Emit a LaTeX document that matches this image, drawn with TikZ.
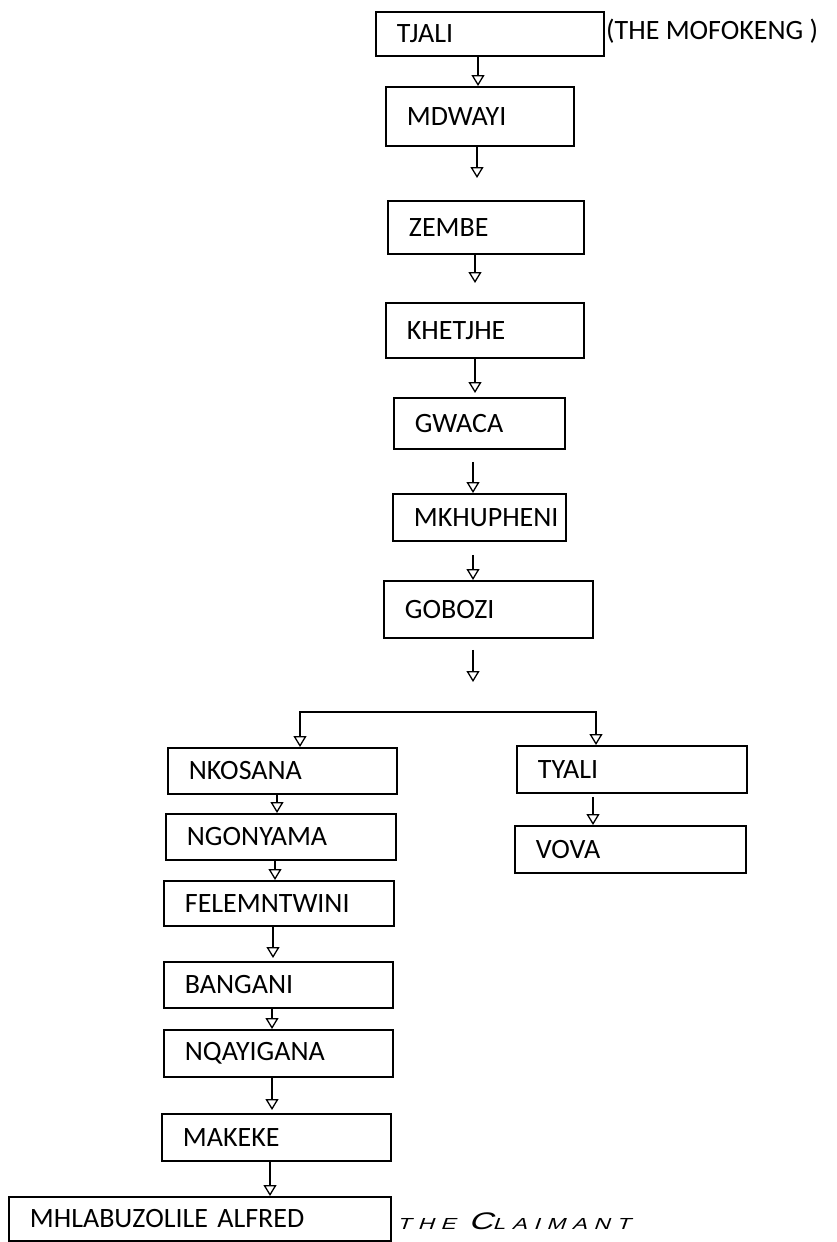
\documentclass[tikz,border=0pt]{standalone}
\usepackage{fontspec}
\newfontfamily\calibri{Carlito}
\newfontfamily\handfont[FakeSlant=0.25,LetterSpace=30]{Liberation Sans}
\usetikzlibrary{arrows.meta}

\begin{document}
\begin{tikzpicture}[x=1pt, y=-1pt,
        box/.style={draw, line width=1.8pt, anchor=north west, inner xsep=21pt, inner ysep=0pt,
            align=left, font=\calibri\fontsize{28}{30}\selectfont},
        arr/.style={line width=1.7pt, -{Triangle[open, length=11pt, width=13pt, line width=1.3pt]}},
        ]

        \useasboundingbox (0,0) rectangle (836,1242);

        % Main line
        \node[box, text width=186pt, minimum height=44pt] (tjali) at (375,11) {TJALI};
        \node[box, text width=146pt, minimum height=59pt] (mdwayi) at (385,86) {MDWAYI};
        \node[box, text width=154pt, minimum height=53pt] (zembe) at (387,200) {ZEMBE};
        \node[box, text width=156pt, minimum height=55pt] (khetjhe) at (385,302) {KHETJHE};
        \node[box, text width=129pt, minimum height=51pt] (gwaca) at (393,397) {GWACA};
        \node[box, text width=131pt, minimum height=47pt] (mkhupheni) at (392,493) {MKHUPHENI};
        \node[box, text width=167pt, minimum height=57pt] (gobozi) at (383,580) {GOBOZI};

        % Note on the first name
        \node[anchor=west, inner sep=0pt, font=\calibri\fontsize{28}{30}\selectfont] (clan) at (606,31) {(THE MOFOKENG )};

        % Left branch
        \node[box, text width=187pt, minimum height=46pt] (nkosana) at (167,747) {NKOSANA};
        \node[box, text width=188pt, minimum height=46pt] (ngonyama) at (165,813) {NGONYAMA};
        \node[box, text width=188pt, minimum height=45pt] (felemntwini) at (163,880) {FELEMNTWINI};
        \node[box, text width=187pt, minimum height=46pt] (bangani) at (163,961) {BANGANI};
        \node[box, text width=187pt, minimum height=47pt] (nqayigana) at (163,1029) {NQAYIGANA};
        \node[box, text width=187pt, minimum height=47pt] (makeke) at (161,1113) {MAKEKE};
        \node[box, text width=340pt, minimum height=44pt] (alfred) at (8,1196) {MHLABUZOLILE ALFRED};

        % Right branch
        \node[box, text width=188pt, minimum height=47pt] (tyali) at (516,745) {TYALI};
        \node[box, text width=189pt, minimum height=47pt] (vova) at (514,825) {VOVA};

        % Handwritten note
        \node[anchor=west, inner sep=0pt] (claimant) at (397,1221)
            {\handfont\scalebox{1.4}[1]{\fontsize{16}{18}\selectfont THE \fontsize{24}{26}\selectfont C\fontsize{16}{18}\selectfont LAIMANT}};

        % Arrows down the main line
        \draw[arr] (tjali.south -| 478,0) -- (mdwayi.north -| 478,0);
        \draw[arr, shorten >=22pt] (mdwayi.south -| 477,0) -- (zembe.north -| 477,0);
        \draw[arr, shorten >=19pt] (zembe.south -| 475,0) -- (khetjhe.north -| 475,0);
        \draw[arr, shorten >=4pt] (khetjhe.south -| 475,0) -- (gwaca.north -| 475,0);
        \draw[arr, shorten <=12pt] (gwaca.south -| 473,0) -- (mkhupheni.north -| 473,0);
        \draw[arr, shorten <=13pt] (mkhupheni.south -| 473,0) -- (gobozi.north -| 473,0);

        % Split into two lines
        \coordinate (split) at (473,712);
        \draw[arr, shorten <=11pt, shorten >=30pt] (gobozi.south -| split) -- (split);
        \draw[arr] (split) -| (nkosana.north -| 300,0);
        \draw[arr] (split) -| (tyali.north -| 596,0);

        % Left line
        \draw[arr] (nkosana.south -| 277,0) -- (ngonyama.north -| 277,0);
        \draw[arr] (ngonyama.south -| 275,0) -- (felemntwini.north -| 275,0);
        \draw[arr, shorten >=3pt] (felemntwini.south -| 273,0) -- (bangani.north -| 273,0);
        \draw[arr] (bangani.south -| 272,0) -- (nqayigana.north -| 272,0);
        \draw[arr, shorten >=3pt] (nqayigana.south -| 272,0) -- (makeke.north -| 272,0);
        \draw[arr] (makeke.south -| 270,0) -- (alfred.north -| 270,0);

        % Right line
        \draw[arr, shorten <=3pt] (tyali.south -| 593,0) -- (vova.north -| 593,0);

    \end{tikzpicture}
\end{document}
